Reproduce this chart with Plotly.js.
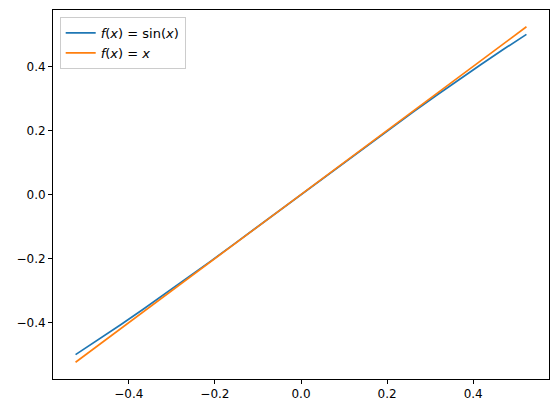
<!DOCTYPE html>
<html>
<head>
<meta charset="utf-8">
<script src="https://cdn.plot.ly/plotly-3.0.1.min.js"></script>
<style>html,body{margin:0;padding:0;background:#fff;}#chart{width:559px;height:413px;}</style>
</head>
<body>
<div id="chart"></div>
<script>
const xValues = [-0.52360, -0.47124, -0.41888, -0.36652, -0.31416, -0.26180, -0.20944, -0.15708, -0.10472, -0.05236, 0.0,
                 0.05236, 0.10472, 0.15708, 0.20944, 0.26180, 0.31416, 0.36652, 0.41888, 0.47124, 0.52360];
const sinValues = [-0.5, -0.45399, -0.40674, -0.35837, -0.30902, -0.25882, -0.20791, -0.15643, -0.10453, -0.05234, 0.0,
                   0.05234, 0.10453, 0.15643, 0.20791, 0.25882, 0.30902, 0.35837, 0.40674, 0.45399, 0.5];
const identityValues = [-0.52360, -0.47124, -0.41888, -0.36652, -0.31416, -0.26180, -0.20944, -0.15708, -0.10472, -0.05236, 0.0,
                        0.05236, 0.10472, 0.15708, 0.20944, 0.26180, 0.31416, 0.36652, 0.41888, 0.47124, 0.52360];
const seriesNames = ['<i>f</i>(<i>x</i>) = sin(<i>x</i>)', '<i>f</i>(<i>x</i>) = <i>x</i>'];
const tickVals = [-0.4, -0.2, 0.0, 0.2, 0.4];
const tickText = ['\u22120.4', '\u22120.2', '0.0', '0.2', '0.4'];

const traces = [
  {x: xValues, y: sinValues, name: seriesNames[0], mode: 'lines', line: {color: '#1f77b4', width: 1.7}},
  {x: xValues, y: identityValues, name: seriesNames[1], mode: 'lines', line: {color: '#ff7f0e', width: 1.7}}
];
const axisCommon = {
  showgrid: false, zeroline: false, showline: true, mirror: true,
  linecolor: '#000', linewidth: 1, ticks: 'outside', ticklen: 4, tickwidth: 1, tickcolor: '#000',
  tickvals: tickVals, ticktext: tickText, tickfont: {size: 12, color: '#000'}
};
const layout = {
  width: 559, height: 413,
  margin: {l: 53.3, r: 9.7, t: 10, b: 34, pad: 0},
  paper_bgcolor: '#fff', plot_bgcolor: '#fff',
  font: {family: 'DejaVu Sans, sans-serif', size: 12, color: '#000'},
  xaxis: Object.assign({}, axisCommon, {range: [-0.5760, 0.5760]}),
  yaxis: Object.assign({}, axisCommon, {range: [-0.5760, 0.5760]}),
  showlegend: true,
  legend: {x: 0.0135, y: 0.981, xanchor: 'left', yanchor: 'top',
           bordercolor: '#cccccc', borderwidth: 1, bgcolor: 'rgba(255,255,255,0.8)',
           font: {size: 13, color: '#000'}}
};
Plotly.newPlot('chart', traces, layout, {displayModeBar: false, staticPlot: true});
</script>
</body>
</html>
